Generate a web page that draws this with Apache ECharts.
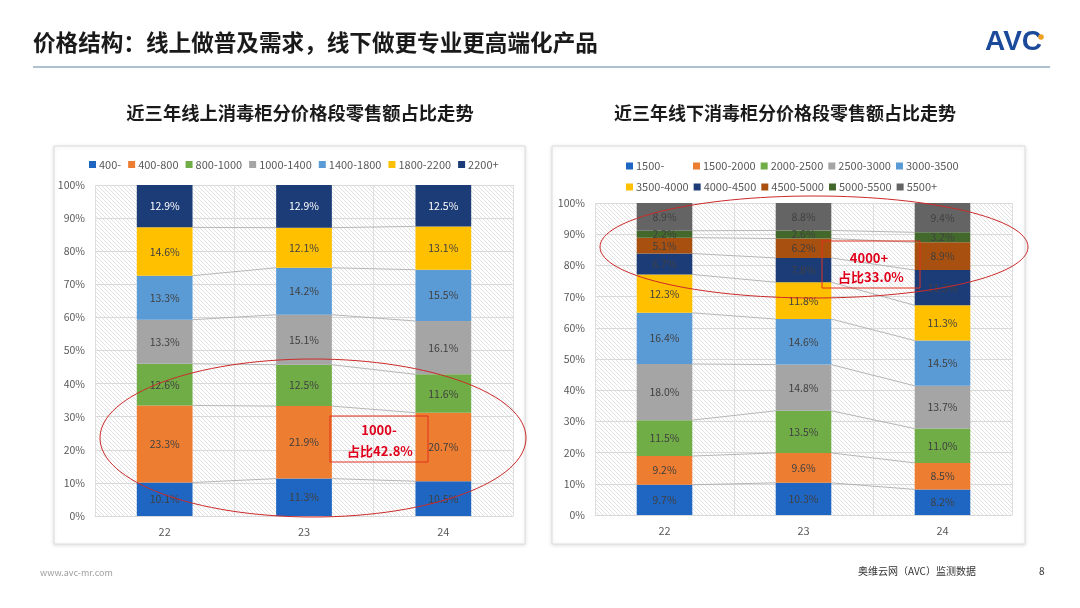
<!DOCTYPE html>
<html><head><meta charset="utf-8">
<script src="https://cdn.jsdelivr.net/npm/echarts@6/dist/echarts.min.js"></script>
<style>html,body{margin:0;padding:0;background:#fff}#c{width:1080px;height:608px}</style>
</head><body><div id="c"></div>
<script>
// ---------- data ----------
const years = ['22', '23', '24'];
const yTicks = [0, 10, 20, 30, 40, 50, 60, 70, 80, 90, 100];

// online price bands (share %)
const onlineNames = ['400-', '400-800', '800-1000', '1000-1400', '1400-1800', '1800-2200', '2200+'];
const on_400 = [10.1, 11.3, 10.5];
const on_400_800 = [23.3, 21.9, 20.7];
const on_800_1000 = [12.6, 12.5, 11.6];
const on_1000_1400 = [13.3, 15.1, 16.1];
const on_1400_1800 = [13.3, 14.2, 15.5];
const on_1800_2200 = [14.6, 12.1, 13.1];
const on_2200p = [12.9, 12.9, 12.5];

// offline price bands (share %)
const offlineNames = ['1500-', '1500-2000', '2000-2500', '2500-3000', '3000-3500', '3500-4000', '4000-4500', '4500-5000', '5000-5500', '5500+'];
const off_1500 = [9.7, 10.3, 8.2];
const off_1500_2000 = [9.2, 9.6, 8.5];
const off_2000_2500 = [11.5, 13.5, 11.0];
const off_2500_3000 = [18.0, 14.8, 13.7];
const off_3000_3500 = [16.4, 14.6, 14.5];
const off_3500_4000 = [12.3, 11.8, 11.3];
const off_4000_4500 = [6.7, 7.8, 11.3];
const off_4500_5000 = [5.1, 6.2, 8.9];
const off_5000_5500 = [2.2, 2.6, 3.2];
const off_5500p = [8.9, 8.8, 9.4];

const onlineValues = [on_400, on_400_800, on_800_1000, on_1000_1400, on_1400_1800, on_1800_2200, on_2200p];
const offlineValues = [off_1500, off_1500_2000, off_2000_2500, off_2500_3000, off_3000_3500, off_3500_4000, off_4000_4500, off_4500_5000, off_5000_5500, off_5500p];

// ---------- styles ----------
const onlineColors = ['#1f66c2', '#ed7d31', '#70ad47', '#a5a5a5', '#5b9bd5', '#ffc000', '#1c3c78'];
const offlineColors = ['#1f66c2', '#ed7d31', '#70ad47', '#a5a5a5', '#5b9bd5', '#ffc000', '#1c3c78', '#a8500f', '#43682b', '#646464'];
const FONT = '"Noto Sans CJK SC", "Noto Sans", sans-serif';

// hatch pattern for plot background
const pc = document.createElement('canvas');
pc.width = 4; pc.height = 4;
const px = pc.getContext('2d');
px.fillStyle = '#ffffff'; px.fillRect(0, 0, 4, 4);
px.strokeStyle = '#e2e2e2'; px.lineWidth = 1;
px.beginPath();
px.moveTo(-1, -1); px.lineTo(5, 5);
px.moveTo(-1, 3); px.lineTo(1, 5);
px.moveTo(3, -1); px.lineTo(5, 1);
px.stroke();
const hatch = { image: pc, repeat: 'repeat' };

const BARW = 0.4;

function connectorData(values) {
  const out = [];
  const n = values[0].length;
  const cum = new Array(n).fill(0);
  const cums = [];
  for (let s = 0; s < values.length; s++) {
    for (let i = 0; i < n; i++) cum[i] += values[s][i];
    cums.push(cum.slice());
  }
  for (let s = 0; s < cums.length - 1; s++) {
    for (let i = 0; i < n - 1; i++) {
      out.push([i, cums[s][i], i + 1, cums[s][i + 1]]);
    }
  }
  return out;
}

function renderConnector(params, api) {
  const p1 = api.coord([api.value(0), api.value(1)]);
  const p2 = api.coord([api.value(2), api.value(3)]);
  const half = api.size([1, 0])[0] * BARW / 2;
  return {
    type: 'line',
    shape: { x1: p1[0] + half, y1: p1[1], x2: p2[0] - half, y2: p2[1] },
    style: { stroke: '#a6a6a6', lineWidth: 0.8 }
  };
}

function barSeries(names, values, colors, axisIdx, whiteIdx) {
  return names.map((nm, s) => ({
    name: nm,
    type: 'bar',
    stack: 'total' + axisIdx,
    xAxisIndex: axisIdx,
    yAxisIndex: axisIdx,
    barWidth: (BARW * 100) + '%',
    data: values[s],
    itemStyle: { color: colors[s] },
    label: {
      show: true,
      position: 'inside',
      formatter: p => p.value.toFixed(1) + '%',
      fontSize: 10.5,
      fontFamily: FONT,
      color: s === whiteIdx ? '#ffffff' : '#404040'
    },
    emphasis: { disabled: true },
    z: 3
  }));
}

const gridStyle = { show: true, backgroundColor: hatch, borderWidth: 0 };

const yAxisBase = {
  type: 'value', min: yTicks[0], max: yTicks[yTicks.length - 1], interval: yTicks[1] - yTicks[0],
  axisLabel: { formatter: '{value}%', color: '#595959', fontSize: 10.5, fontFamily: FONT, margin: 10 },
  axisLine: { show: false }, axisTick: { show: false },
  splitLine: { lineStyle: { color: '#d9d9d9', width: 1 } }
};
const xAxisBase = {
  type: 'category', data: years,
  axisLabel: { color: '#595959', fontSize: 11, fontFamily: FONT, margin: 10 },
  axisLine: { lineStyle: { color: '#d9d9d9' } }, axisTick: { show: false },
  splitLine: { show: true, interval: 0, lineStyle: { color: '#dedede', width: 1 } }
};

const chart = echarts.init(document.getElementById('c'));

const option = {
  backgroundColor: '#ffffff',
  animation: false,
  textStyle: { fontFamily: FONT },
  grid: [
    Object.assign({ left: 95, top: 185, width: 418, height: 331 }, gridStyle),
    Object.assign({ left: 595, top: 203, width: 417, height: 312 }, gridStyle)
  ],
  xAxis: [Object.assign({ gridIndex: 0 }, xAxisBase), Object.assign({ gridIndex: 1 }, xAxisBase)],
  yAxis: [Object.assign({ gridIndex: 0 }, yAxisBase), Object.assign({ gridIndex: 1 }, yAxisBase)],
  legend: [
    {
      data: onlineNames, left: 84, top: 154, itemWidth: 7, itemHeight: 7, itemGap: 7, icon: 'rect',
      selectedMode: false,
      textStyle: { color: '#595959', fontSize: 11, fontFamily: FONT, padding: [0, 0, 0, -2] }
    },
    {
      data: offlineNames, left: 621, top: 153, width: 345, itemWidth: 7, itemHeight: 7, itemGap: 5, icon: 'rect',
      selectedMode: false,
      textStyle: { color: '#595959', fontSize: 11, fontFamily: FONT, width: 52, lineHeight: 16, padding: [0, 0, 0, -2] }
    }
  ],
  series: [].concat(
    barSeries(onlineNames, onlineValues, onlineColors, 0, 6),
    barSeries(offlineNames, offlineValues, offlineColors, 1, -1),
    [
      { type: 'custom', xAxisIndex: 0, yAxisIndex: 0, renderItem: renderConnector, data: connectorData(onlineValues),
        encode: { x: [0, 2], y: [1, 3] }, z: 2, silent: true },
      { type: 'custom', xAxisIndex: 1, yAxisIndex: 1, renderItem: renderConnector, data: connectorData(offlineValues),
        encode: { x: [0, 2], y: [1, 3] }, z: 2, silent: true }
    ]
  ),
  graphic: [
    // chart frames
    { type: 'rect', z: -10, shape: { x: 54, y: 146, width: 471, height: 398 },
      style: { fill: '#fff', stroke: '#dcdcdc', lineWidth: 1, shadowBlur: 4, shadowColor: 'rgba(0,0,0,0.12)', shadowOffsetY: 1 } },
    { type: 'rect', z: -10, shape: { x: 552, y: 146, width: 473, height: 398 },
      style: { fill: '#fff', stroke: '#dcdcdc', lineWidth: 1, shadowBlur: 4, shadowColor: 'rgba(0,0,0,0.12)', shadowOffsetY: 1 } },
    // page title
    { type: 'text', left: 33, top: 31, style: { text: '价格结构：线上做普及需求，线下做更专业更高端化产品', font: 'bold 22.6px ' + FONT, fill: '#1a1a1a' } },
    // divider
    { type: 'line', shape: { x1: 33, y1: 67, x2: 1050, y2: 67 }, style: { stroke: '#93adc0', lineWidth: 1.5 } },
    // logo
    { type: 'text', left: 985, top: 28, style: { text: 'AVC', font: '900 28px "Liberation Sans", Arial, sans-serif', fill: '#1c4a9a' } },
    { type: 'circle', shape: { cx: 1041, cy: 37, r: 2.8 }, style: { fill: '#f0a020' } },
    // chart titles
    { type: 'text', x: 300, y: 113, style: { text: '近三年线上消毒柜分价格段零售额占比走势', font: 'bold 18.3px ' + FONT, fill: '#1a1a1a', align: 'center', verticalAlign: 'middle' } },
    { type: 'text', x: 785, y: 113, style: { text: '近三年线下消毒柜分价格段零售额占比走势', font: 'bold 18px ' + FONT, fill: '#1a1a1a', align: 'center', verticalAlign: 'middle' } },
    // annotations left
    { type: 'ellipse', z: 100, shape: { cx: 313, cy: 438, rx: 213, ry: 79 }, style: { fill: 'none', stroke: '#cc2a2a', lineWidth: 1 } },
    { type: 'rect', z: 100, shape: { x: 330, y: 416, width: 98, height: 46 }, style: { fill: 'none', stroke: '#e0301e', lineWidth: 1 } },
    { type: 'text', z: 101, x: 379, y: 430, style: { text: '1000-', font: 'bold 13px ' + FONT, fill: '#e0001b', align: 'center', verticalAlign: 'middle' } },
    { type: 'text', z: 101, x: 380, y: 451, style: { text: '占比42.8%', font: 'bold 13px ' + FONT, fill: '#e0001b', align: 'center', verticalAlign: 'middle' } },
    // annotations right
    { type: 'ellipse', z: 100, shape: { cx: 814, cy: 247, rx: 214, ry: 51 }, style: { fill: 'none', stroke: '#cc2a2a', lineWidth: 1 } },
    { type: 'rect', z: 100, shape: { x: 822, y: 241, width: 98, height: 47 }, style: { fill: 'none', stroke: '#e0301e', lineWidth: 1 } },
    { type: 'text', z: 101, x: 869, y: 258, style: { text: '4000+', font: 'bold 13px ' + FONT, fill: '#e0001b', align: 'center', verticalAlign: 'middle' } },
    { type: 'text', z: 101, x: 871, y: 277, style: { text: '占比33.0%', font: 'bold 13px ' + FONT, fill: '#e0001b', align: 'center', verticalAlign: 'middle' } },
    // footer
    { type: 'text', left: 40, top: 568, style: { text: 'www.avc-mr.com', font: '9px ' + FONT, fill: '#a0a0a0' } },
    { type: 'text', left: 858, top: 566, style: { text: '奥维云网（AVC）监测数据', font: '10px ' + FONT, fill: '#333333' } },
    { type: 'text', left: 1039, top: 566, style: { text: '8', font: '10px ' + FONT, fill: '#333333' } }
  ]
};
chart.setOption(option);
</script>
</body></html>
